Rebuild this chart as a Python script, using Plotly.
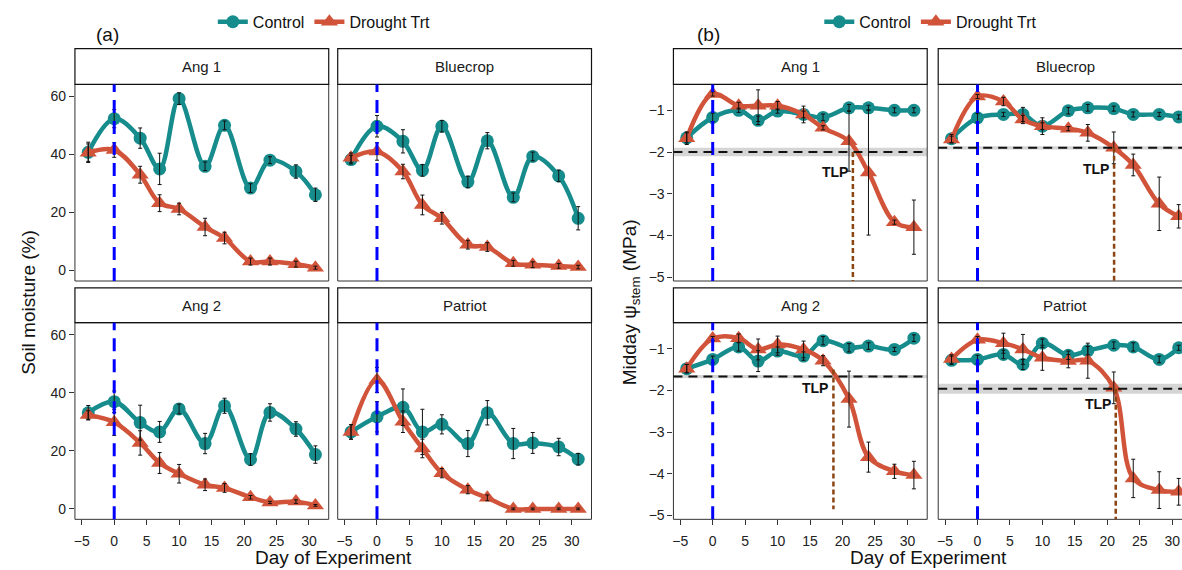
import plotly.graph_objects as go

# ---------------- data ----------------
days = [-4, 0, 4, 7, 10, 14, 17, 21, 24, 28, 31]
cultivars = ["Ang 1", "Bluecrop", "Ang 2", "Patriot"]
x_ticks = [-5, 0, 5, 10, 15, 20, 25, 30]
sm_ticks = [0, 20, 40, 60]
wp_ticks = [-5, -4, -3, -2, -1]

# Soil moisture (%) - panel (a)
sm_ang1_ctrl = [40.7, 52.3, 45.6, 35.0, 59.2, 35.9, 50.0, 28.4, 38.0, 34.1, 26.1]
sm_ang1_ctrl_se = [3.5, 3.1, 3.5, 5.4, 2.0, 1.5, 1.5, 1.5, 1.2, 2.3, 2.3]
sm_ang1_drt = [40.6, 41.5, 33.0, 23.2, 21.2, 15.0, 11.2, 3.1, 3.1, 2.2, 1.0]
sm_ang1_drt_se = [3.0, 2.5, 2.9, 2.9, 2.0, 3.0, 2.0, 1.2, 1.2, 1.0, 0.5]

sm_blue_ctrl = [38.2, 49.7, 44.5, 34.5, 49.7, 30.5, 44.7, 25.2, 39.3, 32.6, 18.0]
sm_blue_ctrl_se = [1.5, 3.7, 4.0, 2.0, 2.0, 2.0, 2.8, 1.5, 1.5, 2.0, 4.0]
sm_blue_drt = [38.8, 41.0, 34.1, 22.6, 18.0, 8.9, 8.1, 2.5, 2.0, 1.6, 1.2]
sm_blue_drt_se = [1.7, 3.0, 2.5, 3.4, 2.0, 1.5, 1.5, 1.0, 1.0, 0.8, 0.6]

sm_ang2_ctrl = [33.1, 36.9, 29.7, 26.5, 34.4, 22.5, 35.5, 17.0, 33.2, 27.5, 18.7]
sm_ang2_ctrl_se = [2.5, 3.7, 6.0, 3.6, 1.7, 3.5, 2.6, 2.0, 3.0, 2.5, 3.0]
sm_ang2_drt = [32.3, 29.8, 22.7, 15.8, 12.1, 8.3, 7.2, 4.0, 2.2, 2.5, 1.2]
sm_ang2_drt_se = [1.5, 4.5, 4.2, 3.6, 3.2, 2.0, 1.5, 0.6, 0.4, 0.6, 0.3]

sm_pat_ctrl = [26.5, 31.7, 35.0, 26.5, 29.1, 22.5, 33.1, 22.5, 22.7, 21.3, 17.1]
sm_pat_ctrl_se = [2.5, 5.2, 6.3, 7.8, 3.3, 4.5, 4.2, 5.2, 3.6, 3.0, 2.0]
sm_pat_drt = [26.5, 44.4, 30.0, 20.8, 12.3, 6.6, 3.8, 0.0, 0.0, 0.0, 0.0]
sm_pat_drt_se = [2.5, 4.3, 3.7, 3.2, 1.6, 1.4, 1.0, 0.3, 0.3, 0.3, 0.3]

# Midday stem water potential (MPa) - panel (b)
wp_ang1_ctrl = [-1.66, -1.17, -1.00, -1.24, -1.02, -1.10, -1.17, -0.94, -0.94, -1.00, -1.00]
wp_ang1_ctrl_se = [0.12, 0.10, 0.05, 0.10, 0.05, 0.08, 0.08, 0.08, 0.06, 0.06, 0.06]
wp_ang1_drt = [-1.67, -0.61, -0.89, -0.89, -0.89, -1.10, -1.42, -1.74, -2.49, -3.68, -3.80]
wp_ang1_drt_se = [0.15, 0.05, 0.08, 0.38, 0.10, 0.20, 0.05, 0.72, 1.50, 0.05, 0.65]

wp_blue_ctrl = [-1.68, -1.18, -1.10, -1.10, -1.38, -1.01, -0.94, -0.96, -1.10, -1.10, -1.16]
wp_blue_ctrl_se = [0.10, 0.10, 0.05, 0.17, 0.20, 0.08, 0.08, 0.06, 0.06, 0.05, 0.05]
wp_blue_drt = [-1.70, -0.67, -0.79, -1.22, -1.38, -1.44, -1.54, -1.90, -2.31, -3.24, -3.54]
wp_blue_drt_se = [0.08, 0.05, 0.10, 0.10, 0.08, 0.05, 0.20, 0.38, 0.26, 0.64, 0.28]

wp_ang2_ctrl = [-1.48, -1.26, -0.96, -1.30, -1.06, -1.18, -0.81, -0.98, -0.94, -1.02, -0.75]
wp_ang2_ctrl_se = [0.10, 0.08, 0.10, 0.25, 0.10, 0.10, 0.10, 0.10, 0.08, 0.05, 0.08]
wp_ang2_drt = [-1.48, -0.76, -0.75, -1.02, -0.90, -1.02, -1.29, -2.21, -3.60, -3.94, -4.03]
wp_ang2_drt_se = [0.10, 0.05, 0.10, 0.25, 0.20, 0.20, 0.12, 0.67, 0.36, 0.17, 0.33]

wp_pat_ctrl = [-1.28, -1.26, -1.14, -1.38, -0.87, -1.16, -1.05, -0.92, -0.96, -1.26, -0.98]
wp_pat_ctrl_se = [0.10, 0.10, 0.10, 0.12, 0.10, 0.10, 0.10, 0.08, 0.10, 0.08, 0.06]
wp_pat_drt = [-1.25, -0.79, -0.87, -1.02, -1.22, -1.30, -1.29, -1.94, -4.11, -4.39, -4.43]
wp_pat_drt_se = [0.10, 0.08, 0.24, 0.36, 0.30, 0.16, 0.42, 0.38, 0.46, 0.44, 0.32]

# Turgor loss point per cultivar
tlp_value = [-2.00, -1.90, -1.67, -1.96]
tlp_band = [0.10, 0.04, 0.04, 0.12]
tlp_day = [21.6, 21.05, 18.6, 21.3]
tlp_drop_top = [-2.00, -1.90, -1.50, -1.96]
tlp_drop_bottom = [-5.20, -5.20, -4.85, -5.20]
tlp_label_x = [18.8, 18.3, 15.8, 18.6]
tlp_label_y = [-2.47, -2.41, -1.95, -2.33]

sm_series = [
    (sm_ang1_ctrl, sm_ang1_ctrl_se, sm_ang1_drt, sm_ang1_drt_se),
    (sm_blue_ctrl, sm_blue_ctrl_se, sm_blue_drt, sm_blue_drt_se),
    (sm_ang2_ctrl, sm_ang2_ctrl_se, sm_ang2_drt, sm_ang2_drt_se),
    (sm_pat_ctrl, sm_pat_ctrl_se, sm_pat_drt, sm_pat_drt_se),
]
wp_series = [
    (wp_ang1_ctrl, wp_ang1_ctrl_se, wp_ang1_drt, wp_ang1_drt_se),
    (wp_blue_ctrl, wp_blue_ctrl_se, wp_blue_drt, wp_blue_drt_se),
    (wp_ang2_ctrl, wp_ang2_ctrl_se, wp_ang2_drt, wp_ang2_drt_se),
    (wp_pat_ctrl, wp_pat_ctrl_se, wp_pat_drt, wp_pat_drt_se),
]

# ---------------- layout geometry (pixels) ----------------
W, H = 1182, 570
TEAL = "#178C8C"
RED = "#D1543A"
FONT = "Liberation Sans, Arial, sans-serif"
PANEL_W = 254
PXDAY = 6.496
X0 = -6.05
cols = {"a": [74, 337], "b": [673, 938]}
rows = [(85, 283), (325, 523)]
strips = [(49, 85), (290, 325)]
yr = {"a": [-3.6, 64.1], "b": [-5.09, -0.38]}


def fx(p):
    return p / W


def fy(p):
    return 1 - p / H


fig = go.Figure()
shapes = []
annotations = []
layout = {}

k = 0
for panel in ["a", "b"]:
    series = sm_series if panel == "a" else wp_series
    for idx in range(4):
        k += 1
        r, c = divmod(idx, 2)
        xname = "xaxis" if k == 1 else f"xaxis{k}"
        yname = "yaxis" if k == 1 else f"yaxis{k}"
        xr_ = "x" if k == 1 else f"x{k}"
        yr_ = "y" if k == 1 else f"y{k}"
        cx0 = cols[panel][c]
        cx1 = min(cx0 + PANEL_W, W)
        ry0, ry1 = rows[r]
        layout[xname] = dict(
            domain=[fx(cx0), fx(cx1)], range=[X0, X0 + (cx1 - cx0) / PXDAY],
            anchor=yr_, tickvals=x_ticks, showticklabels=(r == 1),
            ticks="outside" if r == 1 else "", ticklen=5, tickcolor="#333333",
            ticklabelstandoff=4,
            tickfont=dict(size=14, color="#222222", family=FONT),
            showgrid=False, zeroline=False, showline=False, fixedrange=True,
        )
        layout[yname] = dict(
            domain=[fy(ry1), fy(ry0)], range=yr[panel], anchor=xr_,
            tickvals=sm_ticks if panel == "a" else wp_ticks,
            showticklabels=(c == 0), ticks="outside" if c == 0 else "",
            ticklen=5, tickcolor="#333333",
            tickfont=dict(size=14, color="#222222", family=FONT),
            showgrid=False, zeroline=False, showline=False, fixedrange=True,
        )
        # panel border
        shapes.append(dict(type="rect", xref="paper", yref="paper",
                           x0=fx(cx0), x1=fx(cx0 + PANEL_W), y0=fy(ry1), y1=fy(ry0),
                           line=dict(color="#333333", width=1), fillcolor="rgba(0,0,0,0)",
                           layer="above"))
        # strip
        sy0, sy1 = strips[r]
        shapes.append(dict(type="rect", xref="paper", yref="paper",
                           x0=fx(cx0), x1=fx(cx0 + PANEL_W), y0=fy(sy1), y1=fy(sy0),
                           line=dict(color="#111111", width=1.2), fillcolor="white",
                           layer="above"))
        annotations.append(dict(text=cultivars[idx], xref="paper", yref="paper",
                                x=fx(cx0 + PANEL_W / 2), y=fy((sy0 + sy1) / 2),
                                showarrow=False, xanchor="center", yanchor="middle",
                                font=dict(size=15, color="#1a1a1a", family=FONT)))

        ctrl, ctrl_se, drt, drt_se = series[idx]
        first = idx == 0
        leg = "legend" if panel == "a" else "legend2"
        fig.add_trace(go.Scatter(
            x=days, y=ctrl, xaxis=xr_, yaxis=yr_, mode="lines+markers", name="Control",
            line=dict(color=TEAL, width=4.5, shape="spline", smoothing=1.0),
            marker=dict(symbol="circle", size=13, color=TEAL),
            showlegend=first, legend=leg))
        fig.add_trace(go.Scatter(
            x=days, y=drt, xaxis=xr_, yaxis=yr_, mode="lines+markers", name="Drought Trt",
            line=dict(color=RED, width=4.5, shape="spline", smoothing=1.0),
            marker=dict(symbol="triangle-up", size=15, color=RED),
            showlegend=first, legend=leg))
        for vals, se in ((ctrl, ctrl_se), (drt, drt_se)):
            fig.add_trace(go.Scatter(
                x=days, y=vals, xaxis=xr_, yaxis=yr_, mode="markers",
                marker=dict(size=1, color="rgba(0,0,0,0)"),
                error_y=dict(type="data", array=se, color="#111111", thickness=1, width=2),
                showlegend=False, hoverinfo="skip"))

        # blue dashed line at day 0
        shapes.append(dict(type="line", xref=xr_, yref=f"{yr_} domain",
                           x0=0, x1=0, y0=0, y1=1,
                           line=dict(color="#0000FF", width=3, dash="13px,8px"),
                           layer="above"))
        if panel == "b":
            t = tlp_value[idx]
            b = tlp_band[idx]
            shapes.append(dict(type="rect", xref=f"{xr_} domain", yref=yr_,
                               x0=0, x1=1, y0=t - b, y1=t + b,
                               fillcolor="rgba(185,185,185,0.6)", line=dict(width=0),
                               layer="below"))
            shapes.append(dict(type="line", xref=f"{xr_} domain", yref=yr_,
                               x0=0, x1=1, y0=t, y1=t,
                               line=dict(color="#111111", width=2, dash="9px,6px"),
                               layer="above"))
            shapes.append(dict(type="line", xref=xr_, yref=yr_,
                               x0=tlp_day[idx], x1=tlp_day[idx],
                               y0=tlp_drop_top[idx], y1=tlp_drop_bottom[idx],
                               line=dict(color="#8B4513", width=2.5, dash="5px,3px"),
                               layer="above"))
            annotations.append(dict(text="<b>TLP</b>", xref=xr_, yref=yr_,
                                    x=tlp_label_x[idx], y=tlp_label_y[idx],
                                    showarrow=False, xanchor="center", yanchor="middle",
                                    font=dict(size=14, color="#111111", family=FONT)))

# axis titles and panel labels
annotations += [
    dict(text="Soil moisture (%)", xref="paper", yref="paper", x=fx(28), y=fy(304),
         textangle=-90, showarrow=False, xanchor="center", yanchor="middle",
         font=dict(size=19, color="#111111", family=FONT)),
    dict(text="Midday ψ<sub>stem</sub> (MPa)", xref="paper", yref="paper", x=fx(630), y=fy(304),
         textangle=-90, showarrow=False, xanchor="center", yanchor="middle",
         font=dict(size=19, color="#111111", family=FONT)),
    dict(text="Day of Experiment", xref="paper", yref="paper", x=fx(333), y=fy(561),
         showarrow=False, xanchor="center", yanchor="middle",
         font=dict(size=19, color="#111111", family=FONT)),
    dict(text="Day of Experiment", xref="paper", yref="paper", x=fx(928), y=fy(561),
         showarrow=False, xanchor="center", yanchor="middle",
         font=dict(size=19, color="#111111", family=FONT)),
    dict(text="(a)", xref="paper", yref="paper", x=fx(107), y=fy(35),
         showarrow=False, xanchor="center", yanchor="middle",
         font=dict(size=19, color="#111111", family=FONT)),
    dict(text="(b)", xref="paper", yref="paper", x=fx(708), y=fy(35),
         showarrow=False, xanchor="center", yanchor="middle",
         font=dict(size=19, color="#111111", family=FONT)),
]

legend_common = dict(orientation="h", yanchor="middle", xanchor="left",
                     font=dict(size=16, color="#111111", family=FONT),
                     bgcolor="rgba(0,0,0,0)", itemwidth=30, tracegroupgap=0)

fig.update_layout(
    width=W, height=H, margin=dict(l=0, r=0, t=0, b=0),
    paper_bgcolor="white", plot_bgcolor="white",
    shapes=shapes, annotations=annotations,
    legend=dict(x=fx(212), y=fy(22), **legend_common),
    legend2=dict(x=fx(819), y=fy(22), **legend_common),
    **layout,
)

fig.write_html(
    "out.html",
    config={"displayModeBar": False},
    post_script="document.body.style.margin='0px';document.body.style.overflow='hidden';",
)
